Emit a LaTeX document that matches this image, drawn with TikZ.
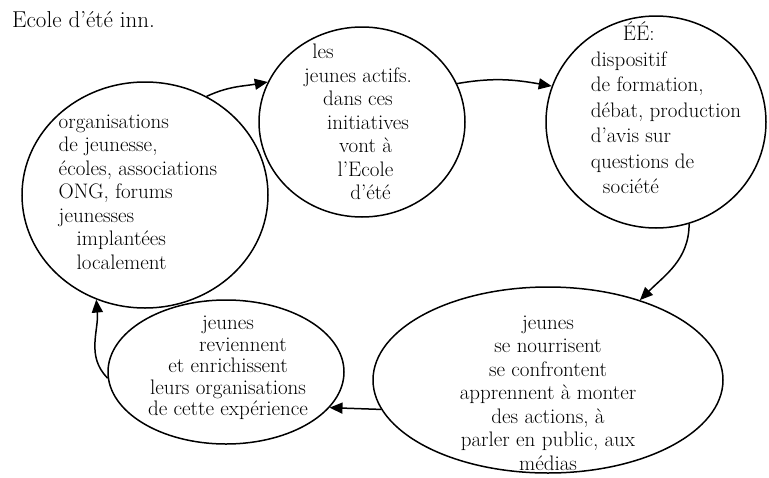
\documentclass[tikz,border=0pt]{standalone}
\usetikzlibrary{shapes.geometric,arrows.meta}
\begin{document}
\begin{tikzpicture}[x=1pt,y=1pt,
  bubble/.style={draw, ellipse, line width=1.5pt, inner sep=0pt},
  txt/.style={font=\fontsize{21}{23.5}\selectfont, align=center, inner sep=0pt},
  flow/.style={line width=1.5pt, -{Triangle[length=13pt,width=11pt]}},
  titletxt/.style={font=\fontsize{23}{26}\selectfont, inner sep=0pt}]
\fill[white] (0,0) rectangle (769,-477);
\useasboundingbox (0,0) rectangle (769,-477);

\node[titletxt, anchor=west] (title) at (12,-20) {Ecole d'été inn.};

\node[bubble, minimum width=246pt, minimum height=226pt] (n1) at (145,-195) {};
\node[bubble, minimum width=206pt, minimum height=190pt] (n2) at (362,-122) {};
\node[bubble, minimum width=220pt, minimum height=212pt] (n3) at (656,-122) {};
\node[bubble, minimum width=350pt, minimum height=186pt] (n4) at (548,-380) {};
\node[bubble, minimum width=236pt, minimum height=144pt] (n5) at (226,-372) {};

\node[txt, align=left] (t1) at (138,-192) {organisations\\de jeunesse,\\écoles, associations\\ONG, forums\\jeunesses\\\hspace*{18pt}implantées\\\hspace*{18pt}localement};
\node[txt] (t2) at (358,-122) {les\hspace*{70pt}\\jeunes actifs.\\dans ces\\\hspace*{20pt}initiatives\\\hspace*{15pt}vont à\\\hspace*{15pt}l'Ecole\\\hspace*{25pt}d'été};
\node[txt, align=left, font=\fontsize{21}{25.5}\selectfont] (t3) at (666,-108) {\hspace*{32pt}ÉÉ:\\dispositif\\de formation,\\débat, production\\d'avis sur\\questions de\\\hspace*{12pt}société};
\node[txt] (t4) at (548,-393) {jeunes\\se nourrisent\\se confrontent\\apprennent à monter\\des actions, à\\parler en public, aux\\médias};
\node[txt, font=\fontsize{21}{21.5}\selectfont] (t5) at (228,-368) {jeunes\\\hspace*{30pt}reviennent\\et enrichissent\\leurs organisations\\de cette expérience};

\draw[flow] (n1.58) to[out=25,in=190] (n2.157);
\draw[flow] (n2.22) to[out=10,in=170] (n3.161);
\draw[flow] (n3.-72) to[out=-90,in=45] (n4.41);
\draw[flow] (n4.190) -- (n5.-19);
\draw[flow] (n5.183) to[out=135,in=-85] (n1.245);
\end{tikzpicture}
\end{document}
